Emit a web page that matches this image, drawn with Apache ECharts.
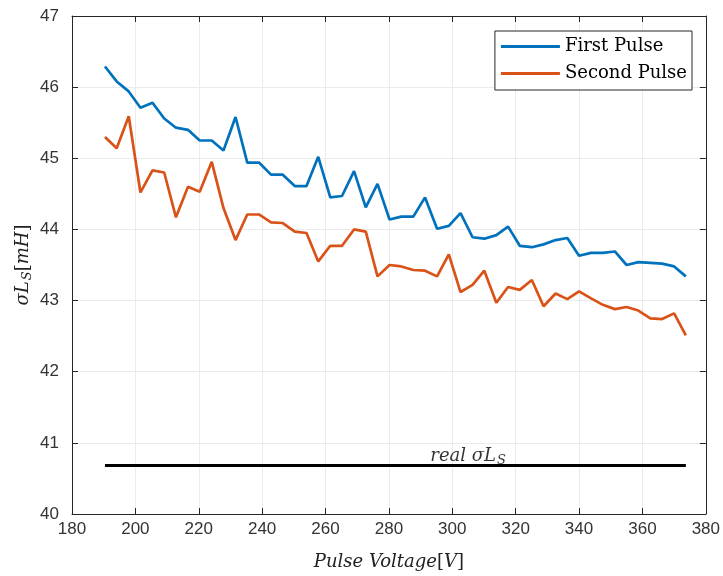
<!DOCTYPE html>
<html>
<head>
<meta charset="utf-8">
<script src="https://cdn.jsdelivr.net/npm/echarts@6/dist/echarts.min.js"></script>
<style>
  html, body { margin: 0; padding: 0; background: #ffffff; }
  #chart { width: 723px; height: 576px; }
</style>
</head>
<body>
<div id="chart"></div>
<script>
// Pulse voltages (V) at which the leakage inductance was measured
const pulseVoltage = [
  190.4, 194.1, 197.9, 201.6, 205.4, 209.1, 212.8, 216.6, 220.3, 224.1,
  227.8, 231.6, 235.3, 239.0, 242.8, 246.5, 250.3, 254.0, 257.7, 261.5,
  265.2, 269.0, 272.7, 276.4, 280.2, 283.9, 287.7, 291.4, 295.2, 298.9,
  302.6, 306.4, 310.1, 313.9, 317.6, 321.3, 325.1, 328.8, 332.6, 336.3,
  340.0, 343.8, 347.5, 351.3, 355.0, 358.7, 362.5, 366.2, 370.0, 373.7
];

// Estimated sigma*L_S (mH) from the first pulse
const firstPulse = [
  46.29, 46.08, 45.94, 45.71, 45.78, 45.56, 45.43, 45.40, 45.25, 45.25,
  45.11, 45.58, 44.94, 44.94, 44.77, 44.77, 44.61, 44.61, 45.02, 44.45,
  44.47, 44.82, 44.31, 44.64, 44.14, 44.18, 44.18, 44.45, 44.01, 44.05,
  44.23, 43.89, 43.87, 43.92, 44.04, 43.77, 43.75, 43.79, 43.85, 43.88,
  43.63, 43.67, 43.67, 43.69, 43.50, 43.54, 43.53, 43.52, 43.48, 43.34
];

// Estimated sigma*L_S (mH) from the second pulse
const secondPulse = [
  45.30, 45.14, 45.59, 44.52, 44.83, 44.80, 44.17, 44.60, 44.53, 44.95,
  44.30, 43.85, 44.21, 44.21, 44.10, 44.09, 43.97, 43.95, 43.55, 43.77,
  43.77, 44.00, 43.97, 43.34, 43.50, 43.48, 43.43, 43.42, 43.34, 43.65,
  43.12, 43.22, 43.42, 42.97, 43.19, 43.15, 43.29, 42.92, 43.10, 43.02,
  43.13, 43.03, 42.94, 42.88, 42.91, 42.86, 42.75, 42.74, 42.82, 42.51
];

// Reference (true) value and the voltage span it is drawn over
const realSigmaLs = 40.68;
const realSpan = [190.4, 373.7];
const realLabelVoltage = 305;

const xTicks = { min: 180, max: 380, interval: 20 };
const yTicks = { min: 40, max: 47, interval: 1 };

const axisColor = '#262626';
const serif = '"DejaVu Serif", "Liberation Serif", serif';
const sans = '"Liberation Sans", Arial, sans-serif';

const zip = (xs, ys) => xs.map((x, i) => [x, ys[i]]);

const chart = echarts.init(document.getElementById('chart'), null, { renderer: 'canvas' });

const frameAxis = {
  axisLine: { show: true, lineStyle: { color: axisColor, width: 1 } },
  axisTick: { show: true, inside: true, length: 6, lineStyle: { color: axisColor } },
  axisLabel: { show: false },
  splitLine: { show: false }
};

const mathRich = (size, color) => ({
  it: { fontFamily: serif, fontStyle: 'italic', fontSize: size, color: color },
  rm: { fontFamily: serif, fontSize: size, color: color },
  sub: { fontFamily: serif, fontStyle: 'italic', fontSize: Math.round(size * 0.7), color: color, padding: [9, 0, 0, 1] }
});

chart.setOption({
  animation: false,
  backgroundColor: '#ffffff',
  grid: { left: 72, right: 17, top: 16, bottom: 60, containLabel: false },
  legend: {
    orient: 'vertical',
    right: 31,
    top: 31,
    padding: [5, 5, 6, 6],
    itemGap: 6,
    itemWidth: 59,
    itemHeight: 3,
    icon: 'rect',
    backgroundColor: '#ffffff',
    borderColor: axisColor,
    borderWidth: 1,
    borderRadius: 0,
    textStyle: { fontFamily: serif, fontSize: 18, color: '#000000', lineHeight: 21 },
    data: ['First Pulse', 'Second Pulse']
  },
  xAxis: [
    {
      type: 'value',
      min: xTicks.min, max: xTicks.max, interval: xTicks.interval,
      axisLine: { show: true, lineStyle: { color: axisColor, width: 1 } },
      axisTick: { show: true, inside: true, length: 6, lineStyle: { color: axisColor } },
      axisLabel: { color: '#333333', fontFamily: sans, fontSize: 17, margin: 7 },
      splitLine: { show: true, lineStyle: { color: '#ebebeb', width: 1 } },
      name: '{it|Pulse Voltage}{rm|[}{it|V}{rm|]}',
      nameLocation: 'middle',
      nameGap: 39,
      nameMoveOverlap: false,
      nameTextStyle: { rich: mathRich(18, '#222222') }
    },
    Object.assign({ type: 'value', position: 'top', min: xTicks.min, max: xTicks.max, interval: xTicks.interval }, frameAxis)
  ],
  yAxis: [
    {
      type: 'value',
      min: yTicks.min, max: yTicks.max, interval: yTicks.interval,
      axisLine: { show: true, lineStyle: { color: axisColor, width: 1 } },
      axisTick: { show: true, inside: true, length: 6, lineStyle: { color: axisColor } },
      axisLabel: { color: '#333333', fontFamily: sans, fontSize: 17, margin: 13 },
      splitLine: { show: true, lineStyle: { color: '#ebebeb', width: 1 } },
      name: '{it|σL}{sub|S}{rm|[}{it|mH}{rm|]}',
      nameLocation: 'middle',
      nameRotate: 90,
      nameGap: 38,
      nameMoveOverlap: false,
      nameTextStyle: { rich: mathRich(18, '#222222') }
    },
    Object.assign({ type: 'value', position: 'right', min: yTicks.min, max: yTicks.max, interval: yTicks.interval }, frameAxis)
  ],
  series: [
    {
      name: 'First Pulse',
      type: 'line',
      data: zip(pulseVoltage, firstPulse),
      showSymbol: false,
      symbol: 'none',
      lineStyle: { color: '#0072BD', width: 2.7 },
      itemStyle: { color: '#0072BD' },
      z: 4
    },
    {
      name: 'Second Pulse',
      type: 'line',
      data: zip(pulseVoltage, secondPulse),
      showSymbol: false,
      symbol: 'none',
      lineStyle: { color: '#D95319', width: 2.7 },
      itemStyle: { color: '#D95319' },
      z: 4
    },
    {
      name: 'real',
      type: 'line',
      data: realSpan.map(v => [v, realSigmaLs]),
      showSymbol: false,
      symbol: 'none',
      lineStyle: { color: '#000000', width: 3 },
      z: 3
    },
    {
      name: 'realLabel',
      type: 'scatter',
      data: [[realLabelVoltage, realSigmaLs]],
      symbolSize: 0,
      silent: true,
      label: {
        show: true,
        position: 'top',
        distance: -2,
        formatter: '{it|real σL}{sub|S}',
        rich: mathRich(18, '#000000')
      },
      z: 5
    }
  ]
});
</script>
</body>
</html>
